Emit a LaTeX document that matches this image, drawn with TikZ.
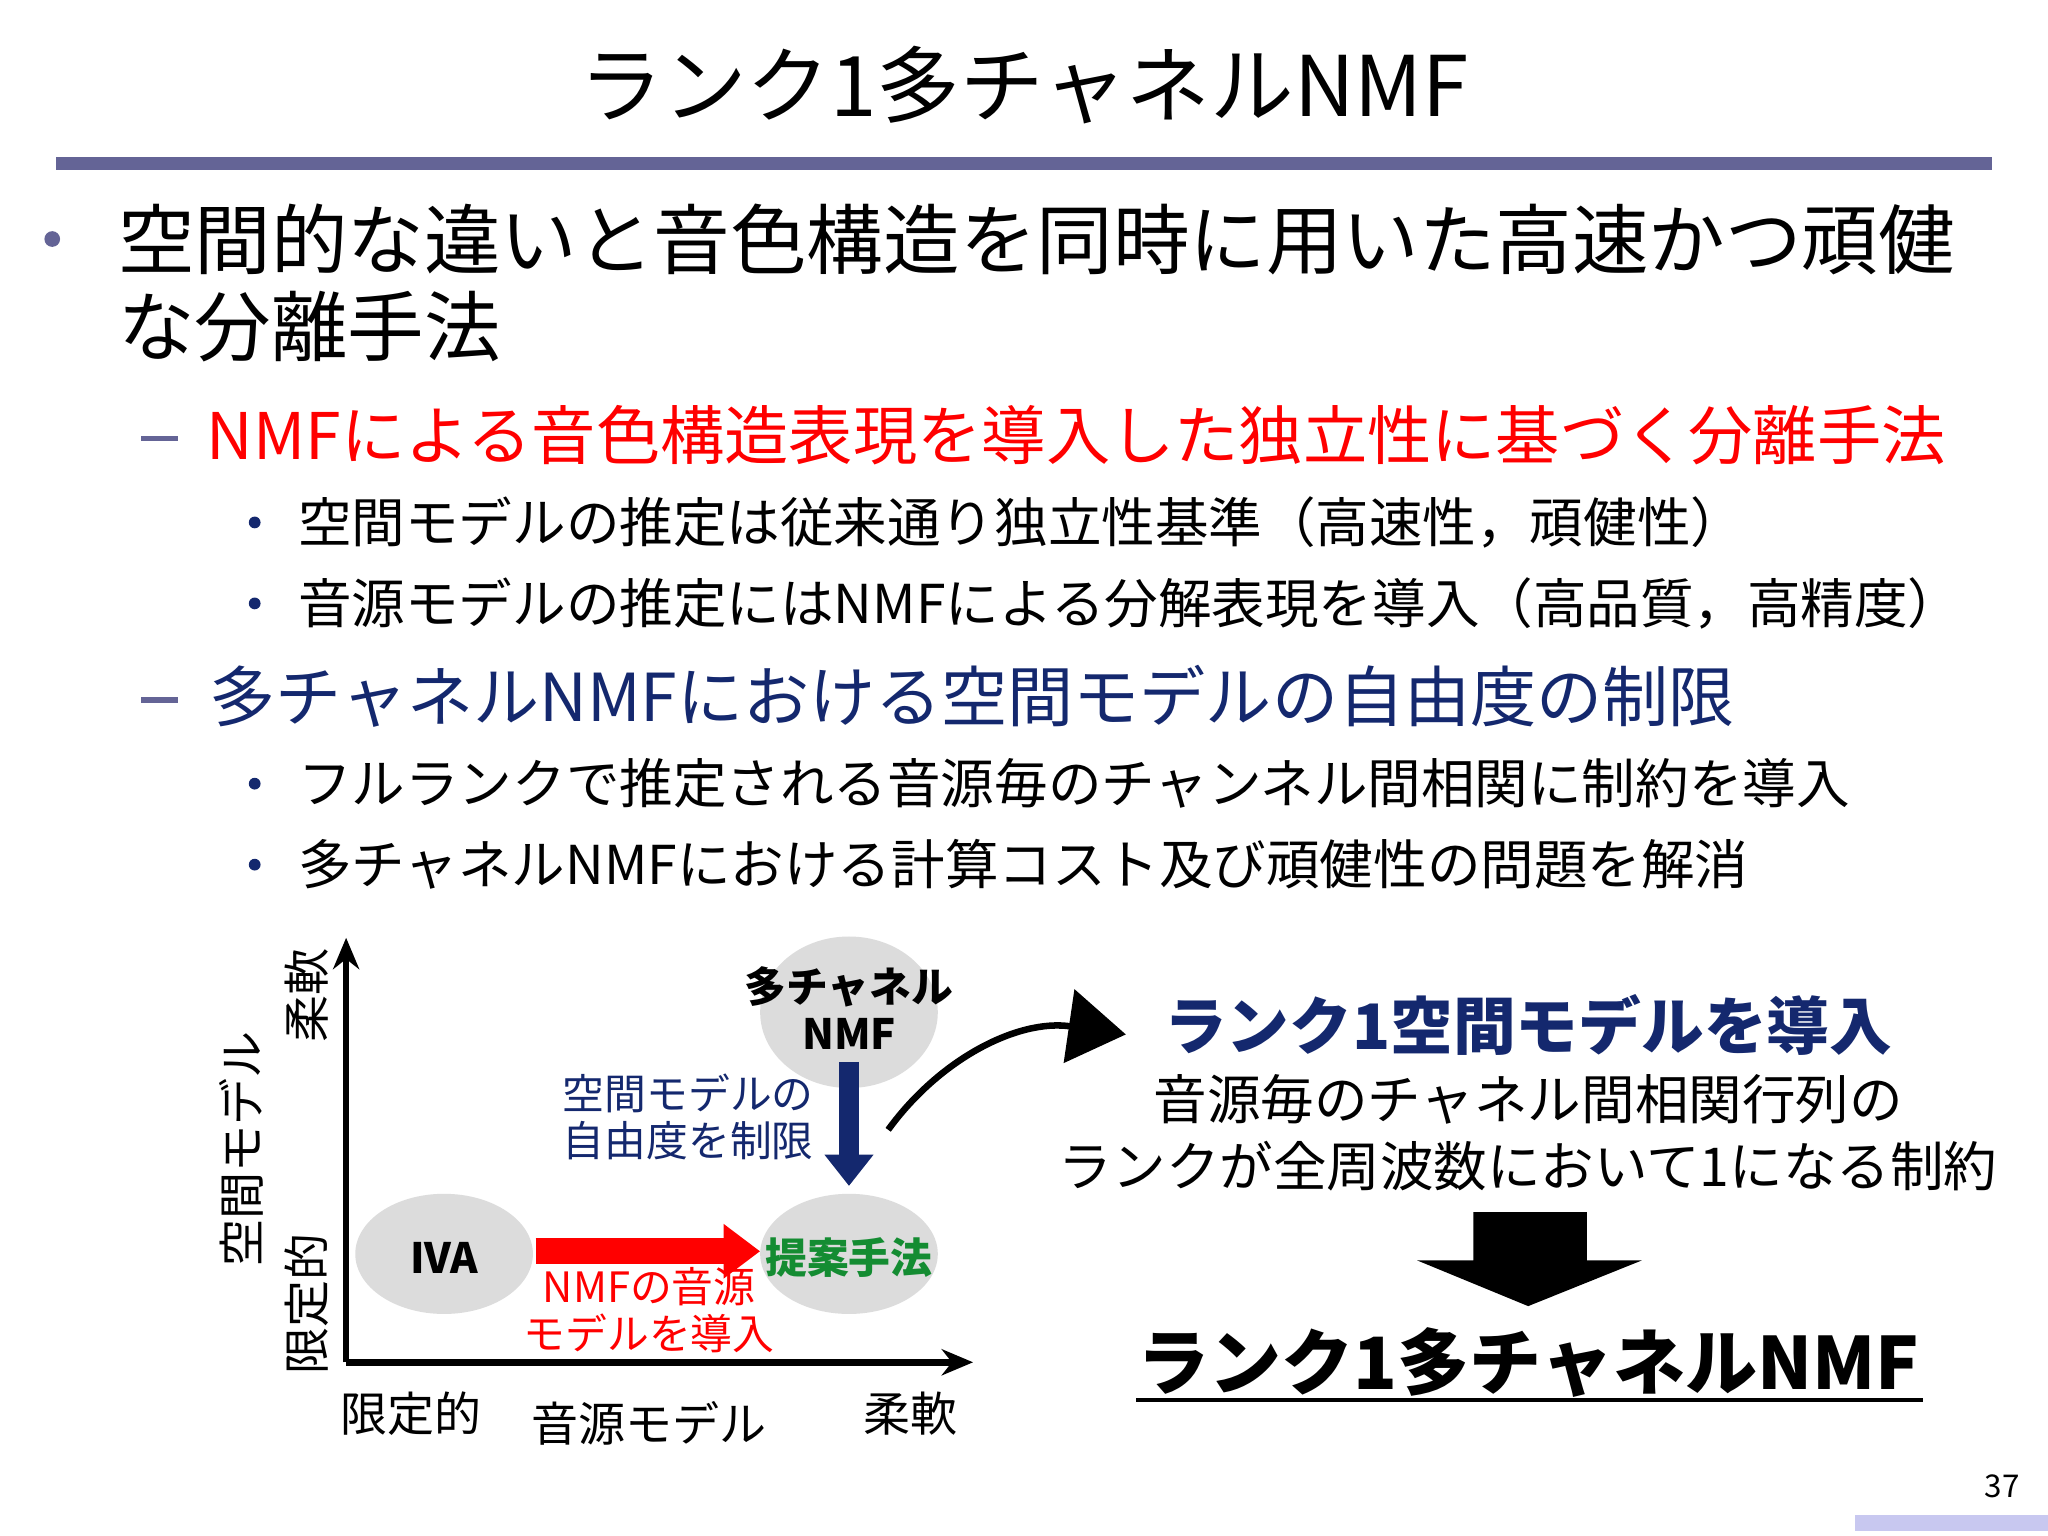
\documentclass[tikz,border=0pt]{standalone}
\usepackage{fontspec}
\setmainfont{Noto Sans CJK JP}
\usetikzlibrary{arrows.meta}
\definecolor{barc}{RGB}{100,100,150}
\definecolor{navy}{RGB}{20,40,110}
\definecolor{gr}{RGB}{20,140,50}
\definecolor{ell}{RGB}{220,220,220}
\definecolor{lb}{RGB}{200,200,240}
\tikzset{t/.style={inner sep=0pt},ax/.style={line width=2.5pt,-{Stealth[length=12pt,width=10pt]}},
sub/.style={t,anchor=west,font=\fontsize{20.5}{22}\selectfont}}
\begin{document}
\begin{tikzpicture}[x=0.5pt,y=-0.5pt]
\useasboundingbox (0,0) rectangle (1568,1176);
\fill[white] (0,0) rectangle (1568,1176);
\node[t] (title) at (784,65) {\fontsize{32}{34}\selectfont ランク1多チャネルNMF};
\fill[barc] (43,120) rectangle (1525,130);
\fill[barc] (40,183) circle (6);
\node[t,anchor=west] (l1) at (90,183) {\fontsize{29.3}{30}\selectfont 空間的な違いと音色構造を同時に用いた高速かつ頑健};
\node[t,anchor=west] (l2) at (90,250) {\fontsize{29.3}{30}\selectfont な分離手法};
\fill[barc] (108,334) rectangle (136,338);
\node[t,anchor=west,text=red] (r1) at (158,333) {\fontsize{24.6}{28}\selectfont NMFによる音色構造表現を導入した独立性に基づく分離手法};
\fill[navy] (195,400) circle (4.5);
\node[sub] (s1) at (228,400) {空間モデルの推定は従来通り独立性基準（高速性，頑健性）};
\fill[navy] (195,462) circle (4.5);
\node[sub] (s2) at (228,462) {音源モデルの推定にはNMFによる分解表現を導入（高品質，高精度）};
\fill[barc] (108,534) rectangle (136,538);
\node[t,anchor=west,text=navy] (r2) at (160,533) {\fontsize{25.3}{28}\selectfont 多チャネルNMFにおける空間モデルの自由度の制限};
\fill[navy] (195,600) circle (4.5);
\node[sub] (s3) at (228,600) {フルランクで推定される音源毎のチャンネル間相関に制約を導入};
\fill[navy] (195,662) circle (4.5);
\node[sub] (s4) at (228,662) {多チャネルNMFにおける計算コスト及び頑健性の問題を解消};
% graph
\coordinate (o) at (265,1043);
\coordinate (yt) at (265,718);
\coordinate (xt) at (745,1043);
\draw[ax] (o) -- (yt);
\draw[ax] (o) -- (xt);
\node[t,rotate=90] (ylab) at (185,880) {\fontsize{18}{20}\selectfont 空間モデル};
\node[t,rotate=90] (yhi) at (235,762) {\fontsize{18}{20}\selectfont 柔軟};
\node[t,rotate=90] (ylo) at (235,998) {\fontsize{18}{20}\selectfont 限定的};
\node[t] (xlo) at (315,1082) {\fontsize{18}{20}\selectfont 限定的};
\node[t] (xlab) at (497,1090) {\fontsize{18}{20}\selectfont 音源モデル};
\node[t] (xhi) at (697,1082) {\fontsize{18}{20}\selectfont 柔軟};
\fill[ell] (340,960) ellipse (68 and 46);
\fill[ell] (650,960) ellipse (68 and 46);
\fill[ell] (650,775) ellipse (68 and 58);
\node[t] (iva) at (340,963) {\fontsize{16}{18}\selectfont\bfseries IVA};
\node[t,text=gr] (prop) at (650,963) {\fontsize{16}{18}\selectfont\bfseries 提案手法};
\node[t,align=center,font=\fontsize{16}{18}\selectfont\bfseries] (mnmf) at (650,772) {多チャネル\\NMF};
\draw[red,line width=10pt,-{Triangle[length=14pt,width=20pt]}] (410,958) -- (582,958);
\node[t,align=center,text=red,font=\fontsize{16}{18}\selectfont] (rt) at (497,1003) {NMFの音源\\モデルを導入};
\draw[navy,line width=8pt,-{Triangle[length=12pt,width=18pt]}] (650,813) -- (650,908);
\node[t,align=left,text=navy,font=\fontsize{16}{18}\selectfont] (nt) at (527,855) {空間モデルの\\自由度を制限};
\coordinate (cs) at (680,865);
\coordinate (ce) at (862,792);
\draw[line width=2.5pt,-{Triangle[length=22pt,width=28pt]}] (cs) .. controls (720,810) and (780,780) .. (ce);
\node[t,text=navy] (h1) at (1170,785) {\fontsize{24}{26}\selectfont\bfseries ランク1空間モデルを導入};
\node[t] (h2) at (1170,842) {\fontsize{20.5}{22}\selectfont 音源毎のチャネル間相関行列の};
\node[t] (h3) at (1170,893) {\fontsize{20.5}{22}\selectfont ランクが全周波数において1になる制約};
\fill (1128,928) -- (1215,928) -- (1215,965) -- (1257,965) -- (1170,1000) -- (1085,965) -- (1128,965) -- cycle;
\node[t] (fin) at (1170,1043) {\fontsize{27.6}{29}\selectfont\bfseries ランク1多チャネルNMF};
\draw[line width=1.5pt] (870,1072) -- (1472,1072);
\node[t] (pg) at (1533,1138) {\fontsize{12}{14}\selectfont 37};
\fill[lb] (1420,1160) rectangle (1568,1172);
\end{tikzpicture}
\end{document}
